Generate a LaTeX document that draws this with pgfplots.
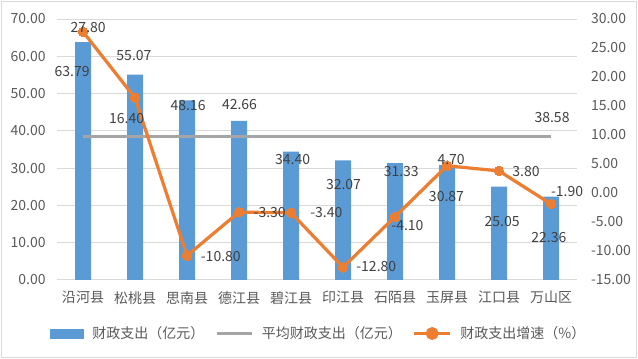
\documentclass[border=0pt]{standalone}
\usepackage{fontspec}
\setmainfont{Noto Sans CJK SC}
\usepackage{pgfplots}
\pgfplotsset{compat=1.18}
\definecolor{barblue}{HTML}{5B9BD5}
\definecolor{lineorange}{HTML}{ED7D31}
\definecolor{avggray}{HTML}{A5A5A5}
\definecolor{txt}{HTML}{595959}
\definecolor{lbl}{HTML}{404040}
\definecolor{gridc}{HTML}{D9D9D9}
\begin{document}
\begin{tikzpicture}[x=0.75pt,y=0.75pt]
\pgfplotsset{
  every axis/.append style={font=\fontsize{10.5}{12}\selectfont},
  base/.style={
    scale only axis, width=390pt, height=195.75pt,
    xmin=-0.5, xmax=9.5,
    clip=false,
    major tick length=0pt,
    tick label style={text=txt, font=\fontsize{10.5}{12}\selectfont},
    /pgf/number format/assume math mode=true,
    yticklabel style={/pgf/number format/fixed, /pgf/number format/fixed zerofill, /pgf/number format/precision=2},
  },
}
\begin{axis}[base,
  ymin=0, ymax=70, ytick={0,10,...,70},
  xtick={0,...,9},
  xticklabels={沿河县,松桃县,思南县,德江县,碧江县,印江县,石陌县,玉屏县,江口县,万山区},
  xticklabel style={yshift=-5pt},
  yticklabel style={xshift=-5pt},
  axis x line*=bottom, axis y line*=left,
  axis line style={draw=none},
  ymajorgrids, grid style={gridc, line width=0.75pt},
]
\addplot[ybar, bar width=12pt, fill=barblue, draw=none, bar shift=0pt]
  coordinates {(0,63.79) (1,55.07) (2,48.16) (3,42.66) (4,34.40) (5,32.07) (6,31.33) (7,30.87) (8,25.05) (9,22.36)};
\addplot[avggray, line width=2.4pt, mark=none]
  coordinates {(0,38.58) (1,38.58) (2,38.58) (3,38.58) (4,38.58) (5,38.58) (6,38.58) (7,38.58) (8,38.58) (9,38.58)};
\begin{scope}[every node/.style={text=lbl, font=\fontsize{10.5}{12}\selectfont, inner sep=0pt}]
\node at (axis cs:-0.21,56.0) {63.79};
\node at (axis cs:0.98,60.1) {55.07};
\node at (axis cs:2.02,46.7) {48.16};
\node at (axis cs:3.01,47.2) {42.66};
\node at (axis cs:4.03,32.4) {34.40};
\node at (axis cs:5.01,25.5) {32.07};
\node at (axis cs:6.12,29.0) {31.33};
\node at (axis cs:6.99,22.5) {30.87};
\node at (axis cs:8.06,15.8) {25.05};
\node at (axis cs:8.96,11.5) {22.36};
\node at (axis cs:9.02,43.7) {38.58};
\end{scope}
\end{axis}
\begin{axis}[base,
  ymin=-15, ymax=30, ytick={-15,-10,...,30},
  axis x line=none, axis y line*=right,
  axis line style={draw=none},
  yticklabel style={anchor=west, xshift=7pt},
  legend columns=3,
  legend style={at={(0.504,-0.205)}, anchor=center, draw=none, fill=none,
    font=\fontsize{10.5}{12}\selectfont, text=txt,
    /tikz/every odd column/.append style={column sep=4.5pt},
    /tikz/every even column/.append style={column sep=6pt},
    inner sep=0pt, cells={anchor=west}},
]
\addlegendimage{legend image code/.code={\fill[barblue] (0pt,-3.4pt) rectangle (24.75pt,3.4pt);}}
\addlegendentry{财政支出（亿元）}
\addlegendimage{legend image code/.code={\draw[avggray, line width=2.4pt] (0pt,0pt) -- (26.25pt,0pt);}}
\addlegendentry{平均财政支出（亿元）}
\addplot[lineorange, line width=2.4pt, mark=*, mark size=3.6pt,
  mark options={fill=lineorange, draw=lineorange, line width=0pt},
  legend image code/.code={\draw[lineorange, line width=2.4pt] (0pt,0pt) -- (27pt,0pt); \fill[lineorange] (13.5pt,0pt) circle (3.6pt);}]
  coordinates {(0,27.80) (1,16.40) (2,-10.80) (3,-3.30) (4,-3.40) (5,-12.80) (6,-4.10) (7,4.70) (8,3.80) (9,-1.90)};
\addlegendentry{财政支出增速（\%）}
\end{axis}
\begin{axis}[base, ymin=0, ymax=70, hide axis]
\begin{scope}[every node/.style={text=lbl, font=\fontsize{10.5}{12}\selectfont, inner sep=0pt}]
\node at (axis cs:0.10,67.6) {27.80};
\node at (axis cs:0.84,43.4) {16.40};
\node at (axis cs:2.65,6.2) {-10.80};
\node at (axis cs:3.59,18.0) {-3.30};
\node at (axis cs:4.68,18.0) {-3.40};
\node at (axis cs:5.64,3.5) {-12.80};
\node at (axis cs:6.24,14.5) {-4.10};
\node at (axis cs:7.08,32.2) {4.70};
\node at (axis cs:8.52,29.0) {3.80};
\node at (axis cs:9.31,23.6) {-1.90};
\end{scope}
\end{axis}
\draw[gridc, line width=0.75pt] (-55.5,-77.5) rectangle (579.5,278.5);
\pgfresetboundingbox
\path[use as bounding box] (-57,-79) rectangle (581,280);
\end{tikzpicture}
\end{document}
